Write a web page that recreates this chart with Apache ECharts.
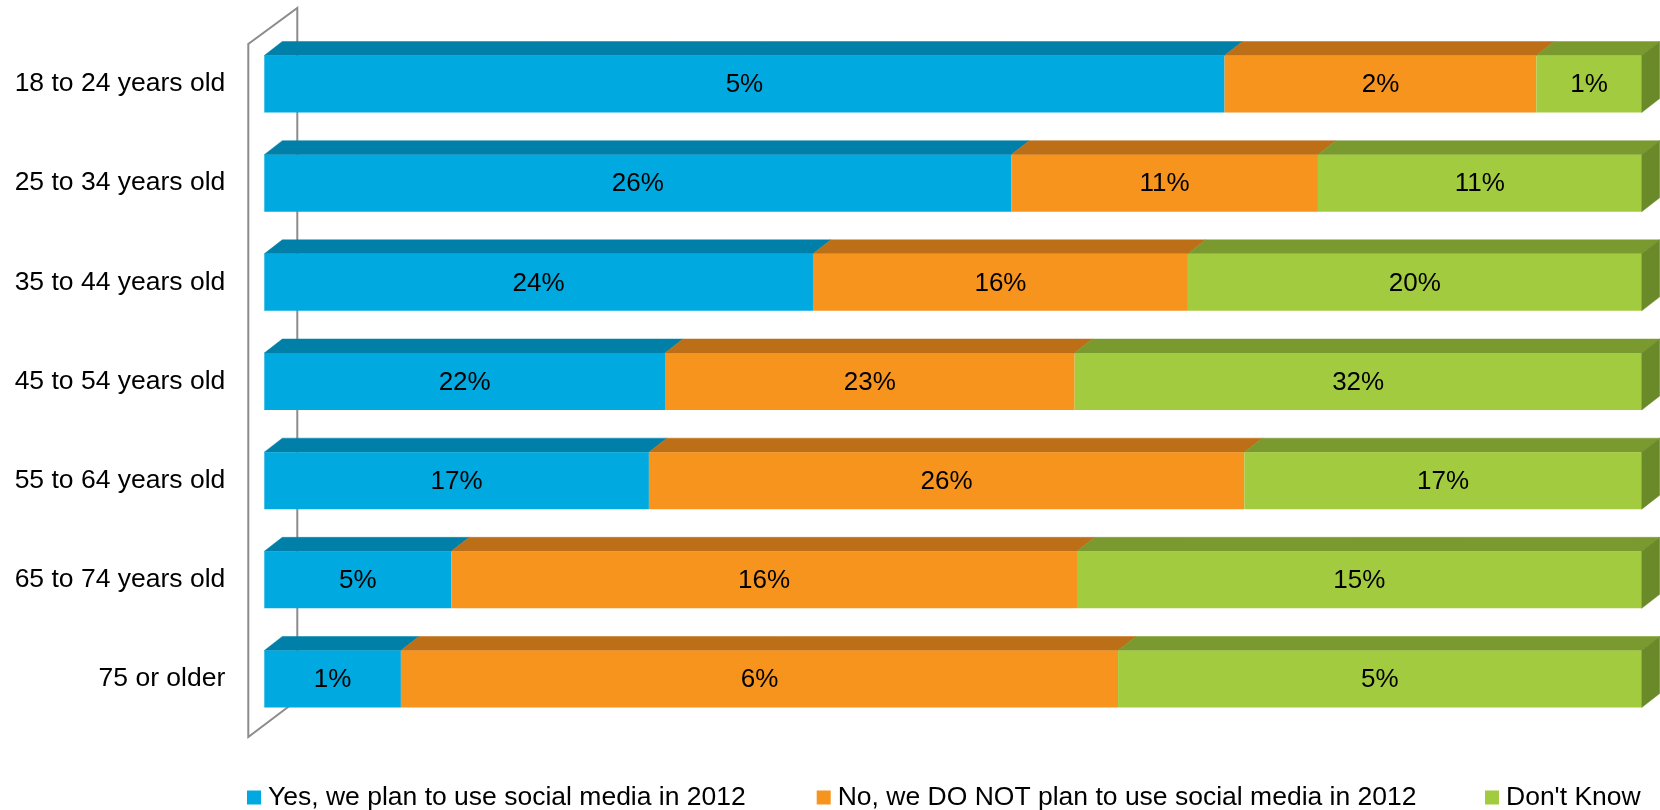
<!DOCTYPE html>
<html>
<head>
<meta charset="utf-8">
<title>Plans to use social media in 2012, by age</title>
<script src="https://cdn.jsdelivr.net/npm/echarts@6/dist/echarts.min.js"></script>
<style>
  html, body { margin: 0; padding: 0; background: #ffffff; }
  #chart { width: 1660px; height: 810px; }
</style>
</head>
<body>
<div id="chart"></div>
<script>
// Age groups, top to bottom
const categories = [
  '18 to 24 years old',
  '25 to 34 years old',
  '35 to 44 years old',
  '45 to 54 years old',
  '55 to 64 years old',
  '65 to 74 years old',
  '75 or older'
];

// Share of respondents (%) per answer in each age group
const yesValues      = [4.65, 26.3, 24.0, 22.4, 16.6, 4.9, 1.2];
const noValues       = [1.51, 10.8, 16.4, 22.9, 25.7, 16.4, 6.3];
const dontKnowValues = [0.51, 11.4, 19.85, 31.7, 17.15, 14.8, 4.6];

const seriesNames = [
  'Yes, we plan to use social media in 2012',
  'No, we DO NOT plan to use social media in 2012',
  "Don't Know"
];

// front / top / side face colours for each answer
const palette = [
  { front: '#00A9E0', top: '#0080A8', side: '#006E90' },
  { front: '#F7941E', top: '#BC6F16', side: '#A05F12' },
  { front: '#A3CB3F', top: '#7A9A30', side: '#6A8A2A' }
];

const FONT = "'Liberation Sans', Arial, Helvetica, sans-serif";
const GRID = { left: 264.3, right: 18.3, top: 34.4, height: 694.2 };
const BAR_H = 57;      // height of a bar's front face
const DEPTH_X = 18;    // 3D depth offset
const DEPTH_Y = 14;

// Each bar is normalised to 100% of its row
const allValues = [yesValues, noValues, dontKnowValues];
const rowTotals = categories.map((_, i) => allValues.reduce((s, arr) => s + arr[i], 0));

function buildData(k) {
  return categories.map((_, i) => {
    let start = 0;
    for (let j = 0; j < k; j++) start += allValues[j][i] / rowTotals[i];
    const end = start + allValues[k][i] / rowTotals[i];
    return [i, start, end, allValues[k][i], k === allValues.length - 1 ? 1 : 0];
  });
}

function makeRender(k) {
  const col = palette[k];
  return function (params, api) {
    const row = api.value(0);
    const p0 = api.coord([api.value(1), row]);
    const p1 = api.coord([api.value(2), row]);
    const x0 = p0[0], x1 = p1[0];
    const yc = p0[1];
    const yT = yc - BAR_H / 2, yB = yc + BAR_H / 2;
    const children = [
      {
        type: 'polygon',
        shape: { points: [[x0, yT], [x1, yT], [x1 + DEPTH_X, yT - DEPTH_Y], [x0 + DEPTH_X, yT - DEPTH_Y]] },
        style: { fill: col.top, stroke: col.top, lineWidth: 0.5 }
      },
      {
        type: 'rect',
        shape: { x: x0, y: yT, width: x1 - x0, height: BAR_H },
        style: { fill: col.front }
      }
    ];
    if (api.value(4) === 1) {
      children.push({
        type: 'polygon',
        shape: { points: [[x1, yT], [x1 + DEPTH_X, yT - DEPTH_Y], [x1 + DEPTH_X, yB - DEPTH_Y], [x1, yB]] },
        style: { fill: col.side, stroke: col.side, lineWidth: 0.5 }
      });
    }
    children.push({
      type: 'text',
      x: (x0 + x1) / 2,
      y: yc + 1,
      z2: 10,
      style: {
        text: Math.round(api.value(3)) + '%',
        fill: '#000000',
        fontSize: 26,
        fontFamily: FONT,
        align: 'center',
        verticalAlign: 'middle'
      }
    });
    return { type: 'group', children: children };
  };
}

// 3D wall outline on the category axis side
const wallFrontX = GRID.left - 16;
const wallBackX = wallFrontX + 49;
const wallTop = 8, wallBottom = 737;

const legendLefts = [247, 816.7, 1485];

const option = {
  backgroundColor: '#ffffff',
  animation: false,
  grid: { left: GRID.left, right: GRID.right, top: GRID.top, height: GRID.height },
  xAxis: { type: 'value', min: 0, max: 1, show: false },
  yAxis: {
    type: 'category',
    data: categories,
    inverse: true,
    axisLine: { show: false },
    axisTick: { show: false },
    splitLine: { show: false },
    axisLabel: { color: '#000000', fontSize: 26.5, fontFamily: FONT, margin: 39 }
  },
  legend: seriesNames.map((name, k) => ({
    data: [name],
    left: legendLefts[k],
    top: 783,
    padding: 0,
    itemWidth: 14,
    itemHeight: 14,
    icon: 'rect',
    selectedMode: false,
    textStyle: { color: '#000000', fontSize: 26.5, fontFamily: FONT, lineHeight: 29, padding: [0, 0, 0, 2] }
  })),
  graphic: [
    {
      type: 'polyline',
      z: 0,
      shape: {
        points: [
          [wallBackX, wallBottom - 37],
          [wallBackX, wallTop],
          [wallFrontX, wallTop + 36],
          [wallFrontX, wallBottom],
          [wallBackX, wallBottom - 37]
        ]
      },
      style: { stroke: '#8C8C8C', lineWidth: 2, fill: null }
    }
  ],
  series: seriesNames.map((name, k) => ({
    type: 'custom',
    name: name,
    z: 2,
    itemStyle: { color: palette[k].front },
    encode: { x: [1, 2], y: 0 },
    data: buildData(k),
    renderItem: makeRender(k)
  }))
};

const chart = echarts.init(document.getElementById('chart'), null, { renderer: 'canvas' });
chart.setOption(option);
</script>
</body>
</html>
